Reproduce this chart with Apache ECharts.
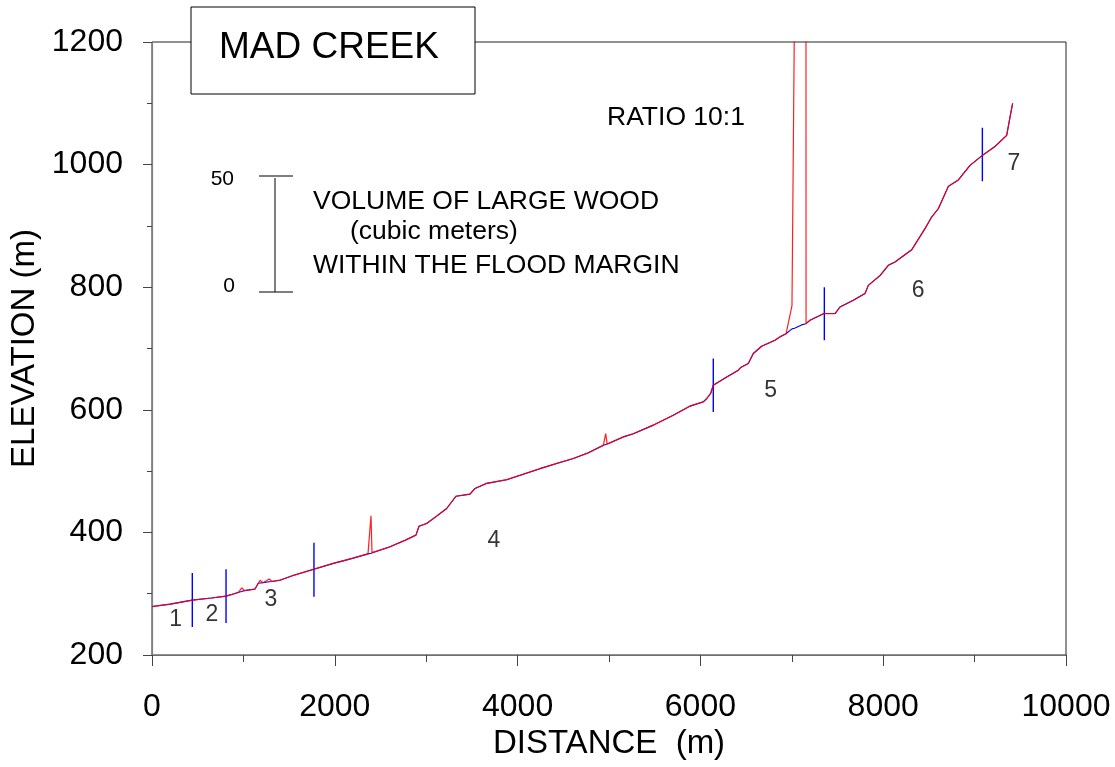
<!DOCTYPE html>
<html>
<head>
<meta charset="utf-8">
<script src="https://cdn.jsdelivr.net/npm/echarts@6/dist/echarts.min.js"></script>
<style>
html,body{margin:0;padding:0;background:#fff;}
#chart{width:1115px;height:767px;}
</style>
</head>
<body>
<div id="chart"></div>
<script>
// Distance along channel (m)
const distance = [0,200,441,650,810,900,950,981,1010,1127,1163,1182,1214,1283,1313,1400,1550,1772,1984,2100,2200,2363,2396,2407,2604,2768,2888,2921,3005,3115,3224,3326,3479,3534,3662,3881,4063,4245,4428,4610,4774,4938,4950,4964,4980,4993,5157,5266,5485,5703,5886,6032,6069,6112,6141,6288,6415,6441,6524,6579,6670,6816,6871,6937,7002,7030,7107,7155,7156,7199,7352,7473,7527,7673,7801,7837,7965,8056,8129,8312,8457,8530,8603,8713,8822,8950,9085,9223,9351,9387,9416];
// Channel bed elevation (m) – blue profile
const bedElevation = [279,283,289.5,293,296,300,302.5,303.5,305,307.6,317,317.5,318,319.5,320,322,330,340,349.5,354,358,365,366,367,376.5,387,395.6,410,414.6,426.6,439,459,462.4,471.7,480,486,495,504,512.5,520.6,529.8,542,543,543.5,544,545,555.8,561,575,591,606,613,618.4,626.6,640,653.6,664.5,669,675.5,691.8,703.7,713.4,719,724,732,733,738.5,740.5,740.7,746,757,757,767.7,778.6,789.6,803,819,835.7,841,861,895.5,914.5,928,964.5,975,998.7,1015,1029.6,1047.6,1077,1100];
// Elevation plus large-wood volume (ratio 10:1) – red profile
const woodTop = [279,283,289.5,293,296,300,302.5,309.7,305,307.6,317,322,318,324,320,322,330,340,349.5,354,358,365,427,367,376.5,387,395.6,410,414.6,426.6,439,459,462.4,471.7,480,486,495,504,512.5,520.6,529.8,542,543,561,544,545,555.8,561,575,591,606,613,618.4,626.6,640,653.6,664.5,669,675.5,691.8,703.7,713.4,719,724,770,1260,1260,1260,740.7,746,757,757,767.7,778.6,789.6,803,819,835.7,841,861,895.5,914.5,928,964.5,975,998.7,1015,1029.6,1047.6,1077,1100];

// Reach boundaries (vertical markers)
const boundaryDist = [441,810,1772,6141,7356,9085];
const boundaryLow  = [245.6,252,295,596.6,713.4,973];
const boundaryHigh = [333.7,340,383,683.6,800,1060];

// Reach labels
const reachNames = ['1','2','3','4','5','6','7'];
const reachX = [259,656,1302,3742,6769,8381,9431];
const reachY = [257,266,291,387,631,795,1001];

const xTicks = {min:0,max:10000,interval:2000};
const yTicks = {min:200,max:1200,interval:200};

const FONT = '"Liberation Sans", Arial, sans-serif';

const chart = echarts.init(document.getElementById('chart'), null, {renderer:'canvas'});

const boundarySeries = boundaryDist.map((d,i)=>({
  type:'line',
  data:[[d,boundaryLow[i]],[d,boundaryHigh[i]]],
  symbol:'none',
  lineStyle:{color:'#0000ff',width:1.4},
  silent:true,
  z:3
}));

const option = {
  animation:false,
  backgroundColor:'#ffffff',
  textStyle:{fontFamily:FONT},
  grid:{left:152,right:49,top:42,bottom:112,containLabel:false,outerBoundsMode:'none',show:true,borderColor:'#222',borderWidth:1,backgroundColor:'transparent'},
  xAxis:{
    type:'value',min:xTicks.min,max:xTicks.max,interval:xTicks.interval,
    name:'DISTANCE  (m)',nameLocation:'middle',nameGap:71,
    nameTextStyle:{fontSize:33,color:'#000',fontFamily:FONT},
    axisLine:{show:true,lineStyle:{color:'#6e6e6e',width:1.2}},
    axisTick:{show:true,inside:false,length:11,lineStyle:{color:'#444'}},
    minorTick:{show:true,splitNumber:2,length:7,lineStyle:{color:'#444'}},
    splitLine:{show:false},
    axisLabel:{fontSize:32,color:'#000',margin:36,fontFamily:FONT,formatter:v=>String(v)}
  },
  yAxis:{
    type:'value',min:yTicks.min,max:yTicks.max,interval:yTicks.interval,
    name:'ELEVATION (m)',nameLocation:'middle',nameGap:106,nameRotate:90,
    nameTextStyle:{fontSize:33,color:'#000',fontFamily:FONT},
    axisLine:{show:true,lineStyle:{color:'#808080',width:1.2}},
    axisTick:{show:true,inside:false,length:9,lineStyle:{color:'#444'}},
    minorTick:{show:true,splitNumber:2,length:5,lineStyle:{color:'#444'}},
    splitLine:{show:false},
    axisLabel:{fontSize:32,color:'#000',margin:29,fontFamily:FONT,formatter:v=>String(v)}
  },
  series:[
    {
      name:'Bed',type:'line',
      data:distance.map((d,i)=>[d,bedElevation[i]]),
      symbol:'none',lineStyle:{color:'#0000ff',width:1.1},z:4
    },
    {
      name:'Wood',type:'line',
      data:distance.map((d,i)=>[d,woodTop[i]]),
      symbol:'none',lineStyle:{color:'#ff0000',width:1.2,opacity:0.88},z:5,clip:true
    },
    ...boundarySeries,
    {
      type:'scatter',
      data:reachX.map((x,i)=>({value:[x,reachY[i]],name:reachNames[i]})),
      symbolSize:0,silent:true,
      label:{show:true,position:'inside',formatter:p=>p.name,fontSize:23,color:'#000',fontFamily:FONT},
      z:6
    }
  ],
  graphic:[
    {type:'rect',shape:{x:191,y:7,width:284,height:87},style:{fill:'#fff',stroke:'#000',lineWidth:1},z:100},
    {type:'text',x:219,y:48,style:{text:'MAD CREEK',font:'37px '+FONT,fill:'#000',textVerticalAlign:'middle'},z:101},
    {type:'text',x:607,y:118,style:{text:'RATIO 10:1',font:'26.5px '+FONT,fill:'#000',textVerticalAlign:'middle'},z:101},
    {type:'line',shape:{x1:259,y1:176,x2:293,y2:176},style:{stroke:'#000',lineWidth:1},z:101},
    {type:'line',shape:{x1:259,y1:292,x2:293,y2:292},style:{stroke:'#000',lineWidth:1},z:101},
    {type:'line',shape:{x1:275,y1:178,x2:275,y2:292},style:{stroke:'#000',lineWidth:1},z:101},
    {type:'text',x:234,y:179,style:{text:'50',font:'21px '+FONT,fill:'#000',textAlign:'right',textVerticalAlign:'middle'},z:101},
    {type:'text',x:235,y:286,style:{text:'0',font:'21px '+FONT,fill:'#000',textAlign:'right',textVerticalAlign:'middle'},z:101},
    {type:'text',x:313,y:202,style:{text:'VOLUME OF LARGE WOOD',font:'26.5px '+FONT,fill:'#000',textVerticalAlign:'middle'},z:101},
    {type:'text',x:350,y:232,style:{text:'(cubic meters)',font:'26.5px '+FONT,fill:'#000',textVerticalAlign:'middle'},z:101},
    {type:'text',x:313,y:266,style:{text:'WITHIN THE FLOOD MARGIN',font:'26.5px '+FONT,fill:'#000',textVerticalAlign:'middle'},z:101}
  ]
};
chart.setOption(option);
</script>
</body>
</html>
